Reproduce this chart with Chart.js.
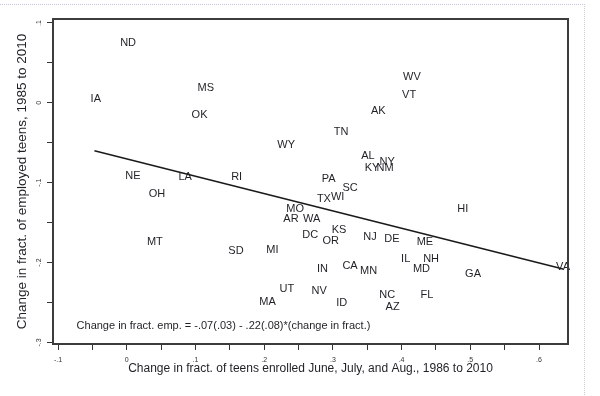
<!DOCTYPE html>
<html>
<head>
<meta charset="utf-8">
<script src="https://cdn.jsdelivr.net/npm/chart.js@4.4.1/dist/chart.umd.min.js"></script>
<style>
  html, body { margin: 0; padding: 0; background: #fff; }
  #wrap { position: relative; width: 600px; height: 396px; overflow: hidden; }
  #edge { position: absolute; left: 0; top: 4px; width: 584px; height: 420px;
          border-top: 1px dotted #c2c4e2; border-right: 1px dotted #c4d0d0; pointer-events: none; }
</style>
</head>
<body>
<div id="wrap">
  <canvas id="scatter-chart" width="600" height="396"></canvas>
  <div id="edge"></div>
</div>
<script>
// state labels and their values (enrollment change, employment change)
var states = ['ND','IA','MS','OK','WV','VT','AK','TN','WY','AL','NY','KY','NM','NE','LA','RI','PA','SC','OH','TX',
              'WI','HI','MO','AR','WA','KS','DC','OR','NJ','DE','ME','MT','SD','MI','IL','NH','VA','CA','IN','MN',
              'MD','GA','UT','NV','FL','NC','MA','ID','AZ'];
var enrollChange = [0.002,-0.045,0.115,0.106,0.415,0.411,0.366,0.312,0.232,0.351,0.379,0.357,0.376,0.009,0.085,0.160,0.294,0.325,0.044,0.287,
                    0.307,0.489,0.245,0.239,0.269,0.309,0.267,0.297,0.354,0.386,0.434,0.041,0.159,0.212,0.406,0.443,0.635,0.325,0.285,0.352,
                    0.429,0.504,0.233,0.280,0.437,0.379,0.205,0.313,0.387];
var employChange = [0.075,0.005,0.019,-0.015,0.0325,0.010,-0.010,-0.036,-0.0525,-0.066,-0.074,-0.081,-0.081,-0.091,-0.0925,-0.0925,-0.095,-0.106,-0.114,-0.120,
                    -0.1175,-0.1325,-0.1325,-0.145,-0.146,-0.159,-0.165,-0.1725,-0.1675,-0.170,-0.174,-0.174,-0.185,-0.184,-0.195,-0.195,-0.206,-0.204,-0.2075,-0.210,
                    -0.2075,-0.214,-0.2325,-0.236,-0.240,-0.241,-0.249,-0.251,-0.255];

// fitted line end points
var fitX = [-0.047, 0.635];
var fitY = [-0.060, -0.208];

// ticks
var xTickVals = [-0.1,-0.05,0,0.05,0.1,0.15,0.2,0.25,0.3,0.35,0.4,0.45,0.5,0.55,0.6];
var xTickLabels = ['-.1','','0','','.1','','.2','','.3','','.4','','.5','','.6'];
var yTickVals = [-0.3,-0.25,-0.2,-0.15,-0.1,-0.05,0,0.05,0.1];
var yTickLabels = ['-.3','','-.2','','-.1','','0','','.1'];

var fitNote = 'Change in fract. emp. = -.07(.03) - .22(.08)*(change in fract.)';
var noteAt = { x: -0.073, y: -0.279 };

var inkColor = '#1f1f26';
var fontFamily = 'Arial, "Liberation Sans", sans-serif';

// draws the state names at their points, the frame and the fit note
var stateLabels = {
  id: 'stateLabels',
  afterDatasetsDraw: function(chart) {
    var ctx = chart.ctx;
    var x = chart.scales.x, y = chart.scales.y;
    var a = chart.chartArea;
    ctx.save();
    ctx.font = '11px ' + fontFamily;
    ctx.fillStyle = inkColor;
    ctx.textAlign = 'center';
    ctx.textBaseline = 'middle';
    for (var i = 0; i < states.length; i += 1) {
      ctx.fillText(states[i], x.getPixelForValue(enrollChange[i]), y.getPixelForValue(employChange[i]));
    }
    ctx.textAlign = 'left';
    ctx.fillText(fitNote, x.getPixelForValue(noteAt.x), y.getPixelForValue(noteAt.y));
    // plot frame
    ctx.strokeStyle = '#3c3c3c';
    ctx.lineWidth = 2;
    ctx.strokeRect(a.left, a.top, a.right - a.left, a.bottom - a.top);
    ctx.restore();
  }
};

new Chart(document.getElementById('scatter-chart'), {
  type: 'scatter',
  data: {
    datasets: [
      {
        label: 'States',
        data: states.map(function(s, i) { return { x: enrollChange[i], y: employChange[i] }; }),
        pointRadius: 0,
        pointHoverRadius: 0
      },
      {
        type: 'line',
        label: 'Fit',
        data: fitX.map(function(v, i) { return { x: v, y: fitY[i] }; }),
        borderColor: '#1a1a1a',
        borderWidth: 1.6,
        pointRadius: 0,
        fill: false
      }
    ]
  },
  options: {
    responsive: false,
    animation: false,
    layout: { padding: { top: 19, right: 32, left: 0, bottom: 0 } },
    plugins: {
      legend: { display: false },
      tooltip: { enabled: false }
    },
    scales: {
      x: {
        type: 'linear',
        min: -0.1073,
        max: 0.6422,
        afterBuildTicks: function(axis) { axis.ticks = xTickVals.map(function(v) { return { value: v }; }); },
        afterFit: function(axis) { axis.height = 52; },
        ticks: {
          callback: function(v, i) { return xTickLabels[i]; },
          font: { size: 7, family: fontFamily },
          color: '#333',
          minRotation: 0,
          maxRotation: 0,
          autoSkip: false,
          padding: 6
        },
        grid: { drawOnChartArea: false, tickLength: 6, color: '#333' },
        border: { display: false },
        title: {
          display: true,
          text: 'Change in fract. of teens enrolled June, July, and Aug., 1986 to 2010',
          font: { size: 12, family: fontFamily },
          color: inkColor,
          padding: { top: 0, bottom: 20 }
        }
      },
      y: {
        type: 'linear',
        min: -0.302,
        max: 0.105,
        afterBuildTicks: function(axis) { axis.ticks = yTickVals.map(function(v) { return { value: v }; }); },
        afterFit: function(axis) { axis.width = 53; },
        ticks: {
          callback: function(v, i) { return yTickLabels[i]; },
          font: { size: 7, family: fontFamily },
          color: '#333',
          minRotation: 90,
          maxRotation: 90,
          crossAlign: 'center',
          autoSkip: false,
          padding: 4
        },
        grid: { drawOnChartArea: false, tickLength: 6, color: '#333' },
        border: { display: false },
        title: {
          display: true,
          text: 'Change in fract. of employed teens, 1985 to 2010',
          font: { size: 13.5, family: fontFamily },
          color: inkColor,
          padding: { top: 14, bottom: 0 }
        }
      }
    }
  },
  plugins: [stateLabels]
});
</script>
</body>
</html>
